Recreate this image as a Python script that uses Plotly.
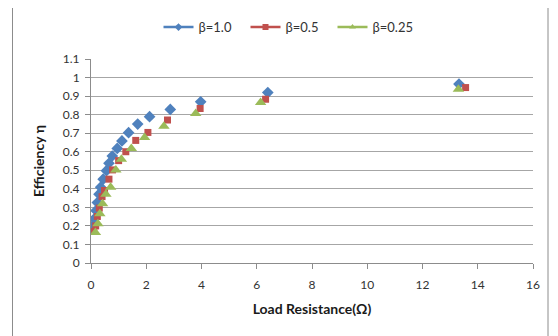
import plotly.graph_objects as go

# beta = 1.0
x_b1 = [0.07, 0.12, 0.18, 0.23, 0.29, 0.35, 0.44, 0.56, 0.65, 0.77, 0.95, 1.12, 1.36, 1.69, 2.12, 2.87, 3.97, 6.40, 13.32]
y_b1 = [0.20, 0.238, 0.283, 0.326, 0.371, 0.409, 0.452, 0.498, 0.538, 0.577, 0.618, 0.658, 0.703, 0.749, 0.789, 0.828, 0.869, 0.919, 0.965]
# beta = 0.5
x_b05 = [0.10, 0.17, 0.23, 0.30, 0.40, 0.49, 0.65, 0.78, 1.00, 1.26, 1.62, 2.06, 2.77, 3.95, 6.32, 13.56]
y_b05 = [0.17, 0.20, 0.251, 0.296, 0.358, 0.391, 0.452, 0.502, 0.552, 0.600, 0.661, 0.704, 0.771, 0.833, 0.883, 0.946]
# beta = 0.25
x_b025 = [0.16, 0.25, 0.32, 0.42, 0.54, 0.71, 0.90, 1.10, 1.46, 1.94, 2.64, 3.79, 6.14, 13.30]
y_b025 = [0.165, 0.211, 0.265, 0.319, 0.371, 0.409, 0.502, 0.559, 0.618, 0.677, 0.738, 0.806, 0.866, 0.937]

names = ["β=1.0", "β=0.5", "β=0.25"]
colors = ["#4F81BD", "#C0504D", "#9BBB59"]
symbols = ["diamond", "square", "triangle-up"]
sizes = [9, 7, 10]
xs = [x_b1, x_b05, x_b025]
ys = [y_b1, y_b05, y_b025]

x_ticks = [0, 2, 4, 6, 8, 10, 12, 14, 16]
y_ticks = [0, 0.1, 0.2, 0.3, 0.4, 0.5, 0.6, 0.7, 0.8, 0.9, 1, 1.1]
y_labels = ["0", "0.1", "0.2", "0.3", "0.4", "0.5", "0.6", "0.7", "0.8", "0.9", "1", "1.1"]

fig = go.Figure()
for n, c, s, sz, x, y in zip(names, colors, symbols, sizes, xs, ys):
    fig.add_trace(go.Scatter(x=x, y=y, mode="markers", name=n, showlegend=False,
                             marker=dict(color=c, symbol=s, size=sz)))
    fig.add_trace(go.Scatter(x=[None], y=[None], mode="lines+markers", name=n,
                             line=dict(color=c, width=2.5),
                             marker=dict(color=c, symbol=s, size=6)))

W, H = 558, 336
OFF = 8  # page body margin
# plot area in window pixels
PX0, PX1, PY0, PY1 = 91, 533, 59, 263.5
L = PX0 - OFF
R = W - (PX1 - OFF)
T = PY0 - OFF
B = H - (PY1 - OFF)
pw, ph = PX1 - PX0, PY1 - PY0

def px(xw):
    return (xw - PX0) / pw

def py(yw):
    return (PY1 - yw) / ph

fig.add_shape(type="rect", xref="paper", yref="paper",
              x0=px(12.5), x1=px(548), y0=py(360), y1=py(5),
              line=dict(color="#8C8C8C", width=1), fillcolor="rgba(0,0,0,0)", layer="below")

fig.update_layout(
    width=W, height=H,
    margin=dict(l=L, r=R, t=T, b=B, autoexpand=False),
    paper_bgcolor="white", plot_bgcolor="white",
    font=dict(family="Lato, Open Sans, Liberation Sans, sans-serif", size=12, color="#333333"),
    legend=dict(orientation="h", x=px(289), xanchor="center", y=py(27), yanchor="middle",
                font=dict(size=13, color="#333333"), tracegroupgap=0, entrywidth=42,
                bgcolor="rgba(0,0,0,0)"),
    xaxis=dict(range=[0, 16], tickvals=x_ticks, showgrid=False, zeroline=False,
               showline=True, linecolor="#8C8C8C", linewidth=1,
               ticks="outside", ticklen=5, tickcolor="#8C8C8C", ticklabelstandoff=6,
               title=dict(text="<b>Load Resistance(Ω)</b>", font=dict(size=14, color="#1a1a1a"), standoff=12)),
    yaxis=dict(range=[0, 1.1], tickvals=y_ticks, ticktext=y_labels, showgrid=True,
               gridcolor="#A6A6A6", gridwidth=1, zeroline=False,
               showline=True, linecolor="#8C8C8C", linewidth=1,
               ticks="outside", ticklen=5, tickcolor="#8C8C8C", ticklabelstandoff=3,
               title=dict(text="<b>Efficiency η</b>", font=dict(size=14, color="#1a1a1a"), standoff=14)),
)

fig.write_html("out.html")
